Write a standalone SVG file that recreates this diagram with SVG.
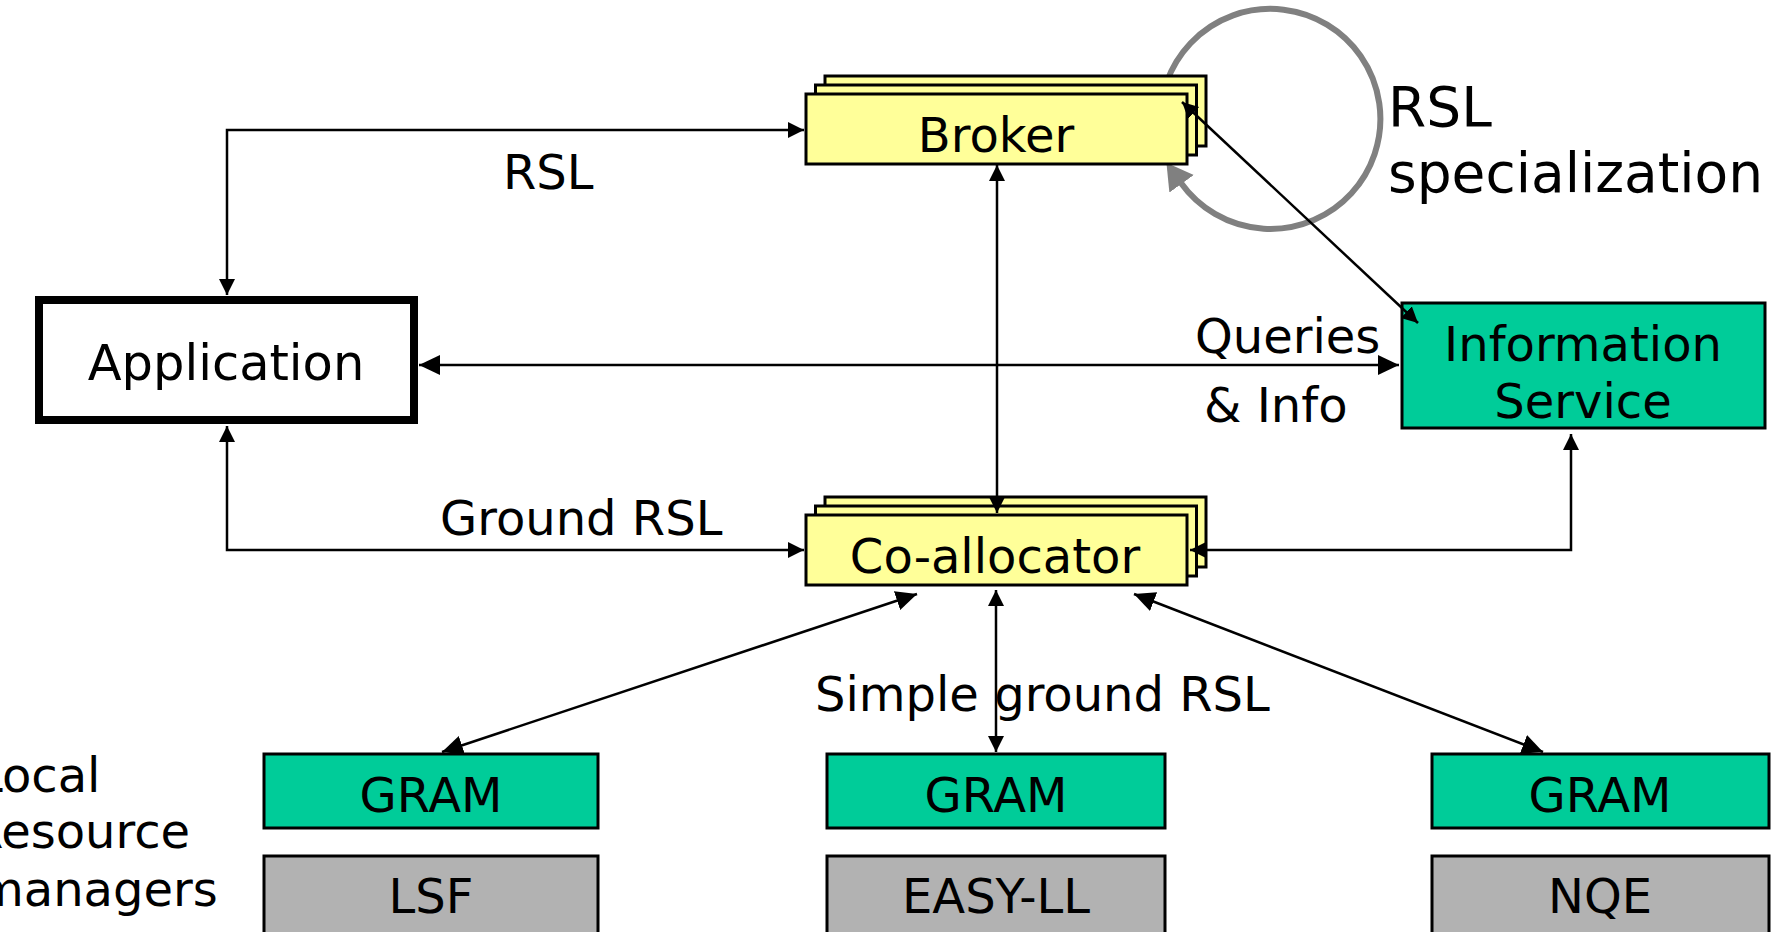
<svg xmlns="http://www.w3.org/2000/svg" width="1776" height="932" viewBox="0 0 1776 932">
  <defs>
    <style>
      text { font-family: "DejaVu Sans", Verdana, sans-serif; fill: #000; font-size: 48px; }
      .c { text-anchor: middle; }
      .big { font-size: 55px; }
      .yel { fill: #FFFF99; stroke: #000; stroke-width: 3; }
      .grn { fill: #00CC99; stroke: #000; stroke-width: 3; }
      .gry { fill: #B2B2B2; stroke: #000; stroke-width: 3; }
      .conn { fill: none; stroke: #000; stroke-width: 2.5; }
      .sm { marker-start: url(#as); marker-end: url(#as); }
      .lg { marker-start: url(#al); marker-end: url(#al); }
    </style>
    <marker id="as" markerUnits="userSpaceOnUse" markerWidth="18" markerHeight="18" refX="16" refY="8" orient="auto-start-reverse">
      <path d="M0,0 L16,8 L0,16 z" fill="#000"/>
    </marker>
    <marker id="al" markerUnits="userSpaceOnUse" markerWidth="24" markerHeight="24" refX="21" refY="10" orient="auto-start-reverse">
      <path d="M0,0 L21,10 L0,20 z" fill="#000"/>
    </marker>
    <marker id="ag" markerUnits="userSpaceOnUse" markerWidth="34" markerHeight="34" refX="1" refY="15" orient="auto">
      <path d="M0,0 L26,15 L0,30 z" fill="#808080"/>
    </marker>
  </defs>
  <rect width="1776" height="932" fill="#fff"/>

  <g id="loop">
    <path d="M1166.6,82.4 A110,110 0 1 1 1181,183" fill="none" stroke="#808080" stroke-width="6" marker-end="url(#ag)"/>
    <text class="big" x="1388" y="126">RSL</text>
    <text class="big" x="1388" y="192">specialization</text>
  </g>

  <g id="broker">
    <rect class="yel" x="825" y="76" width="381" height="70"/>
    <rect class="yel" x="815.5" y="85" width="381" height="70"/>
    <rect class="yel" x="806" y="94" width="381" height="70"/>
    <text class="c" x="996" y="152">Broker</text>
  </g>

  <g id="application">
    <rect x="39" y="300" width="375" height="120" fill="#fff" stroke="#000" stroke-width="8"/>
    <text class="c" x="226" y="380" style="font-size:49.5px">Application</text>
  </g>

  <g id="info-service">
    <rect class="grn" x="1402" y="303" width="363" height="125"/>
    <text class="c" x="1583" y="361">Information</text>
    <text class="c" x="1583" y="418">Service</text>
  </g>

  <g id="coallocator">
    <rect class="yel" x="825" y="497" width="381" height="70"/>
    <rect class="yel" x="815.5" y="506" width="381" height="70"/>
    <rect class="yel" x="806" y="515" width="381" height="70"/>
    <text class="c" x="995" y="573">Co-allocator</text>
  </g>

  <g id="gram-lsf">
    <rect class="grn" x="264" y="754" width="334" height="74"/>
    <text class="c" x="431" y="812">GRAM</text>
    <rect class="gry" x="264" y="856" width="334" height="90"/>
    <text class="c" x="431" y="913">LSF</text>
  </g>

  <g id="gram-easy">
    <rect class="grn" x="827" y="754" width="338" height="74"/>
    <text class="c" x="996" y="812">GRAM</text>
    <rect class="gry" x="827" y="856" width="338" height="90"/>
    <text class="c" x="996" y="913">EASY-LL</text>
  </g>

  <g id="gram-nqe">
    <rect class="grn" x="1432" y="754" width="337" height="74"/>
    <text class="c" x="1600" y="812">GRAM</text>
    <rect class="gry" x="1432" y="856" width="337" height="90"/>
    <text class="c" x="1600" y="913">NQE</text>
  </g>

  <g id="local-label">
    <text x="-24" y="792">Local</text>
    <text x="-30" y="848">Resource</text>
    <text x="-23" y="906">managers</text>
  </g>

  <g id="connectors">
    <path class="conn sm" d="M227,295 V130 H804"/>
    <path class="conn lg" d="M419,365 H1399"/>
    <path class="conn sm" d="M227,426 V550 H804"/>
    <path class="conn sm" d="M997,165 V513"/>
    <path class="conn sm" d="M1182,102 L1418,323"/>
    <path class="conn sm" d="M1571,434 V550 H1190"/>
    <path class="conn lg" d="M917,594 L442,752"/>
    <path class="conn sm" d="M996,590 V752"/>
    <path class="conn lg" d="M1134,594 L1543,752"/>
  </g>

  <g id="labels">
    <text x="503" y="189">RSL</text>
    <text x="1195" y="353">Queries</text>
    <text x="1204" y="422">&amp; Info</text>
    <text x="440" y="535">Ground RSL</text>
    <text x="815" y="711">Simple ground RSL</text>
  </g>
</svg>
